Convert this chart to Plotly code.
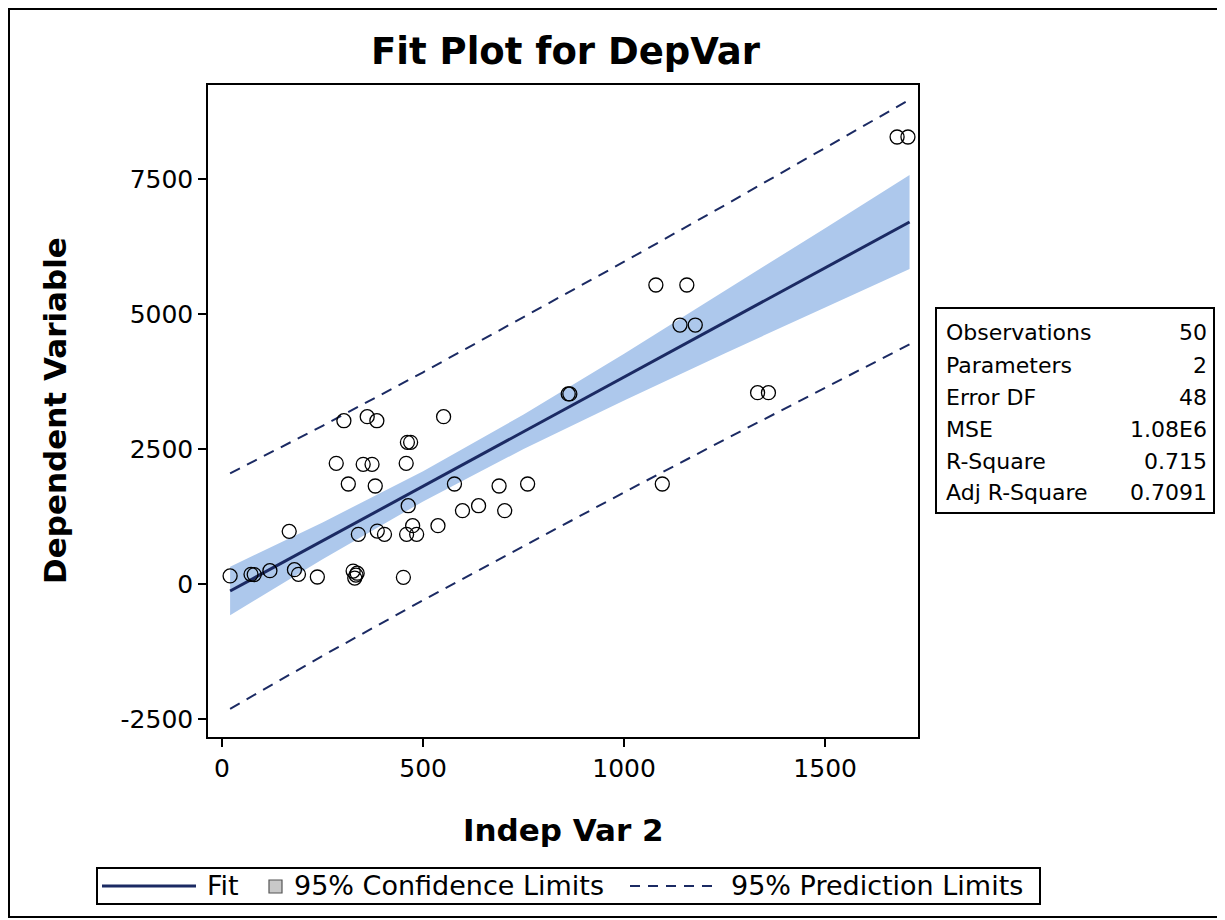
import plotly.graph_objects as go

# ---------------- data ----------------
obs_x = [20, 72, 80, 119, 180, 190, 237, 326, 330, 333, 336, 451, 167, 339, 386, 404, 459, 484,
         474, 537, 463, 598, 638, 703, 314, 381, 578, 689, 760, 284, 351, 373, 458, 461, 469,
         303, 361, 385, 551, 861, 865, 1095, 1332, 1359, 1139, 1177, 1079, 1156, 1679, 1706]
obs_y = [150, 180, 175, 247, 265, 179, 130, 240, 110, 165, 200, 124, 975, 920, 981, 920, 920, 920,
         1080, 1080, 1450, 1358, 1450, 1358, 1852, 1815, 1852, 1815, 1852, 2235, 2216, 2216, 2235, 2624, 2624,
         3024, 3099, 3024, 3099, 3520, 3520, 1852, 3543, 3543, 4796, 4796, 5537, 5537, 8278, 8278]

grid_x = [20, 250, 500, 750, 1000, 1250, 1500, 1710]
fit_y = [-130, 800, 1811, 2822, 3833, 4844, 5855, 6704]
clm_lower = [-580, 460, 1530, 2500, 3400, 4270, 5120, 5835]
clm_upper = [320, 1140, 2090, 3140, 4265, 5420, 6590, 7574]
pred_lower = [-2310, -1330, -299, 707, 1698, 2674, 3640, 4439]
pred_upper = [2050, 2930, 3921, 4937, 5968, 7014, 8070, 8969]

x_ticks = [0, 500, 1000, 1500]
y_ticks = [-2500, 0, 2500, 5000, 7500]

stat_labels = ["Observations", "Parameters", "Error DF", "MSE", "R-Square", "Adj R-Square"]
stat_values = ["50", "2", "48", "1.08E6", "0.715", "0.7091"]

title_text = "Fit Plot for DepVar"
x_title = "Indep Var 2"
y_title = "Dependent Variable"
legend_labels = ["Fit", "95% Confidence Limits", "95% Prediction Limits"]

# ---------------- styling ----------------
OFF = 8                      # page body margin
W, H = 1225 - OFF, 920 - OFF
L, R, T, B = 208, 918, 85, 737   # plot area in page pixels
FONT = "DejaVu Sans"
NAVY = "#1B2A63"
BAND = "#ADC8EC"
DASH = "11px,8px"


def px(xpix):
    return (xpix - L) / (R - L)


def py(ypix):
    return (B - ypix) / (B - T)


fig = go.Figure()

fig.add_trace(go.Scatter(x=grid_x, y=clm_lower, mode="lines", line=dict(width=0, color=BAND),
                         showlegend=False, hoverinfo="skip"))
fig.add_trace(go.Scatter(x=grid_x, y=clm_upper, mode="lines", line=dict(width=0, color=BAND),
                         fill="tonexty", fillcolor=BAND, showlegend=False, hoverinfo="skip"))
fig.add_trace(go.Scatter(x=grid_x, y=pred_upper, mode="lines", line=dict(color=NAVY, width=2, dash=DASH),
                         showlegend=False))
fig.add_trace(go.Scatter(x=grid_x, y=pred_lower, mode="lines", line=dict(color=NAVY, width=2, dash=DASH),
                         showlegend=False))
fig.add_trace(go.Scatter(x=grid_x, y=fit_y, mode="lines", line=dict(color=NAVY, width=3),
                         showlegend=False))
fig.add_trace(go.Scatter(x=obs_x, y=obs_y, mode="markers",
                         marker=dict(symbol="circle-open", size=14, color="black", line=dict(width=1.3, color="black")),
                         showlegend=False))

axis_common = dict(showgrid=False, zeroline=False, showline=True, mirror=True, linecolor="black",
                   linewidth=1.5, ticks="outside", ticklen=8, tickwidth=1.5, tickcolor="black",
                   tickfont=dict(family=FONT, size=25, color="black"))

fig.update_xaxes(range=[-35, 1731], tickvals=x_ticks, ticktext=[str(v) for v in x_ticks], **axis_common)
fig.update_yaxes(range=[-2833, 9241], tickvals=y_ticks, ticktext=[str(v) for v in y_ticks], **axis_common)

annotations = []
annotations.append(dict(text="<b>%s</b>" % title_text, x=px(566), y=py(52), xref="paper", yref="paper",
                        xanchor="center", yanchor="middle", showarrow=False,
                        font=dict(family=FONT, size=37, color="black")))
annotations.append(dict(text="<b>%s</b>" % x_title, x=px(563), y=py(830), xref="paper", yref="paper",
                        xanchor="center", yanchor="middle", showarrow=False,
                        font=dict(family=FONT, size=31, color="black")))
annotations.append(dict(text="<b>%s</b>" % y_title, x=px(55), y=py(411), xref="paper", yref="paper",
                        xanchor="center", yanchor="middle", showarrow=False, textangle=-90,
                        font=dict(family=FONT, size=31, color="black")))

# statistics table
row_y = [332, 365, 397, 429, 461, 493]
for lab, val, ry in zip(stat_labels, stat_values, row_y):
    annotations.append(dict(text=lab, x=px(944), y=py(ry), xref="paper", yref="paper",
                            xanchor="left", yanchor="middle", showarrow=False,
                            font=dict(family=FONT, size=22, color="black")))
    annotations.append(dict(text=val, x=px(1209), y=py(ry), xref="paper", yref="paper",
                            xanchor="right", yanchor="middle", showarrow=False,
                            font=dict(family=FONT, size=22, color="black")))

shapes = []
shapes.append(dict(type="rect", xref="paper", yref="paper", x0=px(936), x1=px(1214), y0=py(513), y1=py(308),
                   line=dict(color="black", width=2), fillcolor="rgba(0,0,0,0)"))

# manual legend
leg_y = 886
shapes.append(dict(type="rect", xref="paper", yref="paper", x0=px(97), x1=px(1040), y0=py(904), y1=py(868),
                   line=dict(color="black", width=2), fillcolor="white"))
shapes.append(dict(type="line", xref="paper", yref="paper", x0=px(102), x1=px(196), y0=py(leg_y), y1=py(leg_y),
                   line=dict(color=NAVY, width=3)))
shapes.append(dict(type="rect", xref="paper", yref="paper", x0=px(269), x1=px(282), y0=py(893), y1=py(880),
                   line=dict(color="#555555", width=1.2), fillcolor="#C8C8C8"))
shapes.append(dict(type="line", xref="paper", yref="paper", x0=px(630), x1=px(720), y0=py(leg_y), y1=py(leg_y),
                   line=dict(color=NAVY, width=1.8, dash="10px,8px")))
for lab, lx in zip(legend_labels, [205, 292, 729]):
    annotations.append(dict(text=lab, x=px(lx), y=py(leg_y), xref="paper", yref="paper",
                            xanchor="left", yanchor="middle", showarrow=False,
                            font=dict(family=FONT, size=27, color="black")))

# outer frame of the image
shapes.append(dict(type="rect", xref="paper", yref="paper", x0=px(9), x1=px(1219), y0=py(917), y1=py(9),
                   line=dict(color="black", width=2), fillcolor="rgba(0,0,0,0)", layer="below"))

fig.update_layout(width=W, height=H,
                  margin=dict(l=L - OFF, r=W - (R - OFF), t=T - OFF, b=H - (B - OFF)),
                  paper_bgcolor="white", plot_bgcolor="white", showlegend=False,
                  annotations=annotations, shapes=shapes,
                  font=dict(family=FONT, color="black"))

fig.write_html("out.html")
